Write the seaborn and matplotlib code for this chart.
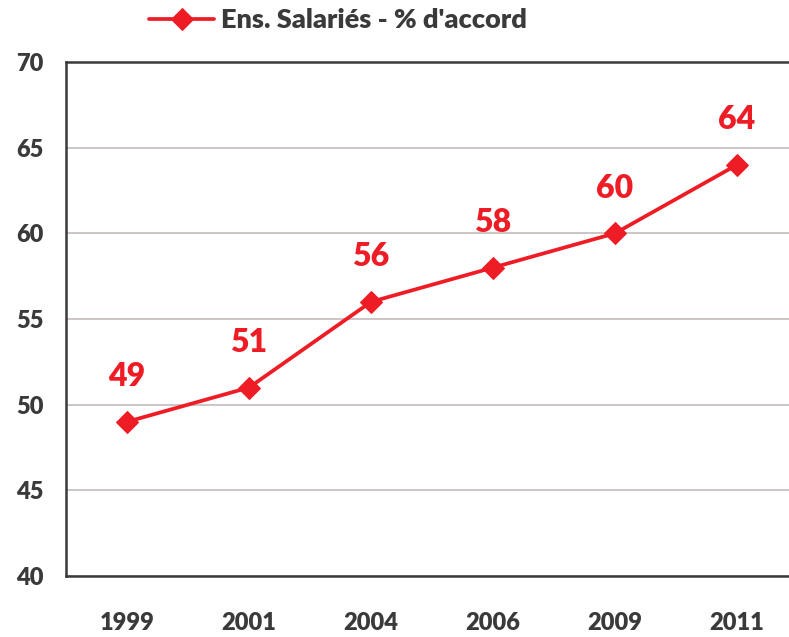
import matplotlib
matplotlib.use("Agg")
import matplotlib.pyplot as plt
import seaborn as sns
import pandas as pd

years = ["1999", "2001", "2004", "2006", "2009", "2011"]
values = [49, 51, 56, 58, 60, 64]
series_name = "Ens. Salariés - % d'accord"

RED = "#ee1c25"
DARK = "#3a3a3a"
W = "heavy"

sns.set_theme(style="white")
plt.rcParams['font.family'] = ['Lato', 'DejaVu Sans']
plt.rcParams['font.weight'] = W

df = pd.DataFrame({"year": years, "value": values})

fig = plt.figure(figsize=(7.89, 6.37), dpi=100)
ax = fig.add_axes([66/789, 61/637, 732/789, 514/637])

sns.lineplot(data=df, x="year", y="value", ax=ax, color=RED, linewidth=2.7,
             marker="D", markersize=11, markeredgecolor=RED, markerfacecolor=RED,
             label=series_name, legend=False)

ax.set_xlim(-0.5, 5.5)
ax.set_ylim(40, 70)
ax.set_yticks([40, 45, 50, 55, 60, 65, 70])
ax.yaxis.grid(True, color="#c9bfbf", linewidth=1.3)
ax.xaxis.grid(False)
ax.set_axisbelow(True)

for side in ["left", "bottom", "top"]:
    ax.spines[side].set_color(DARK)
    ax.spines[side].set_linewidth(1.8)
ax.spines["right"].set_visible(False)

ax.tick_params(axis="y", length=0, pad=16, labelsize=17, labelcolor=DARK)
ax.tick_params(axis="x", length=0, pad=26, labelsize=17, labelcolor=DARK)
for lab in ax.get_xticklabels() + ax.get_yticklabels():
    lab.set_fontweight(W)
ax.set_xlabel("")
ax.set_ylabel("")

for i, v in enumerate(values):
    ax.annotate(str(v), (i, v), xytext=(0, 22), textcoords="offset points",
                ha="center", va="bottom", color=RED, fontsize=23, fontweight=W)

leg = fig.legend(handles=ax.get_lines()[:1], labels=[series_name],
                 loc="center", bbox_to_anchor=(338/789, 1 - 20/637),
                 frameon=False, fontsize=19.5, handlelength=2.4, handletextpad=0.25)
for t in leg.get_texts():
    t.set_color(DARK)
    t.set_fontweight(W)

fig.savefig("out.png", dpi=100)
